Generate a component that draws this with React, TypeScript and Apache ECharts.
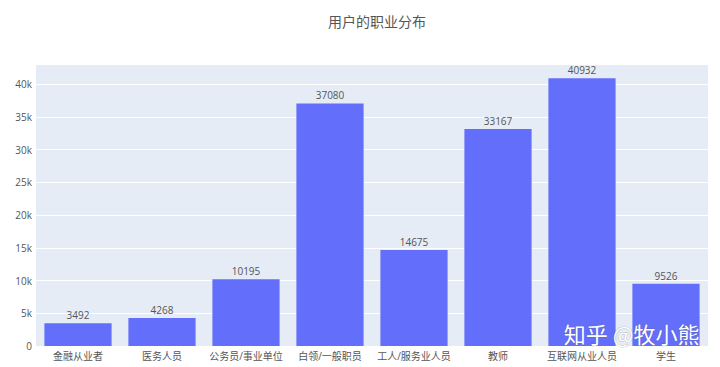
import React, { useEffect, useRef } from "react";
import * as echarts from "echarts";

const categories = ["金融从业者", "医务人员", "公务员/事业单位", "白领/一般职员", "工人/服务业人员", "教师", "互联网从业人员", "学生"];
const counts = [3492, 4268, 10195, 37080, 14675, 33167, 40932, 9526];
const titleText = "用户的职业分布";
const watermark = "知乎 @牧小熊";

const FONT = '"Open Sans", "Noto Sans CJK SC", sans-serif';

export default function App() {
  const ref = useRef<HTMLDivElement>(null);
  useEffect(() => {
    const chart = echarts.init(ref.current!, null, { renderer: "svg" });
    chart.setOption({
      animation: false,
      backgroundColor: "#ffffff",
      title: {
        text: titleText,
        left: 323,
        top: 9,
        textStyle: { fontFamily: FONT, fontSize: 14, fontWeight: "normal", color: "#555" },
      },
      grid: {
        left: 36,
        right: 12,
        top: 64,
        bottom: 21,
        show: true,
        backgroundColor: "#E5ECF6",
        borderWidth: 0,
      },
      xAxis: {
        type: "category",
        data: categories,
        axisLine: { show: false },
        axisTick: { show: false },
        axisLabel: { fontFamily: FONT, fontSize: 10, color: "#555", margin: 5, interval: 0 },
      },
      yAxis: {
        type: "value",
        min: 0,
        max: 43100,
        interval: 5000,
        axisLine: { show: false },
        axisTick: { show: false },
        splitLine: { lineStyle: { color: "#ffffff", width: 1 } },
        axisLabel: {
          fontFamily: FONT,
          fontSize: 10,
          color: "#555",
          margin: 4,
          formatter: (v: number) => (v === 0 ? "0" : v / 1000 + "k"),
          showMaxLabel: false,
        },
      },
      series: [
        {
          type: "bar",
          data: counts,
          barCategoryGap: "20%",
          itemStyle: { color: "#636EFA" },
          label: {
            show: true,
            position: "top",
            distance: 3,
            fontFamily: FONT,
            fontSize: 10,
            color: "#555",
          },
        },
      ],
      graphic: [
        {
          type: "text",
          right: 20,
          top: 321,
          z: 100,
          style: {
            text: watermark,
            fontFamily: '"Noto Sans CJK SC", sans-serif',
            fontSize: 22,
            fill: "#ffffff",
            stroke: "rgba(90,90,90,0.35)",
            lineWidth: 1,
            shadowBlur: 3,
            shadowColor: "rgba(0,0,0,0.4)",
          },
        },
      ],
    });
    return () => chart.dispose();
  }, []);
  return <div ref={ref} style={{ position: "fixed", left: 0, top: 0, width: 720, height: 367 }} />;
}
